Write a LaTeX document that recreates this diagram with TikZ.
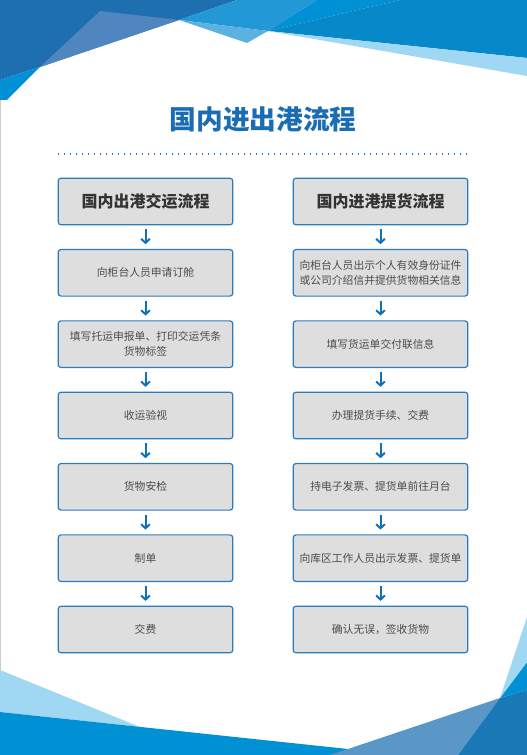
\documentclass[tikz,border=0pt]{standalone}
\usepackage{fontspec}
\newfontfamily\cjk{Noto Sans CJK SC}
\usetikzlibrary{arrows.meta}
\definecolor{dkblue}{HTML}{1E6FAF}
\definecolor{stblue}{HTML}{4F86BF}
\definecolor{brblue}{HTML}{0090D4}
\definecolor{ltblue}{HTML}{2398D6}
\definecolor{skblue}{HTML}{5BB1E0}
\definecolor{pale}{HTML}{A0D8F3}
\definecolor{mdblue}{HTML}{0788C8}
\definecolor{steel}{HTML}{5A97C6}
\definecolor{dkb2}{HTML}{1A78B7}
\definecolor{titleblue}{HTML}{1A6DB4}
\definecolor{boxfill}{HTML}{DEDEDE}
\definecolor{boxline}{HTML}{2A7BC0}
\definecolor{arrblue}{HTML}{1070B8}
\tikzset{
  stepbox/.style={draw=boxline, line width=0.9pt, fill=boxfill, rounded corners=2.2pt,
    minimum width=131pt, minimum height=35pt, inner sep=0pt, align=center,
    font=\cjk\fontsize{8.1pt}{11.25pt}\selectfont, text=black!70},
  headbox/.style={stepbox, font=\cjk\bfseries\fontsize{12pt}{14pt}\selectfont, text=black!80},
  arr/.style={draw=arrblue, line width=1.5pt, -{Straight Barb[length=3pt,width=6.5pt]},
    shorten <=3pt, shorten >=3.5pt}
}
\begin{document}
\begin{tikzpicture}[x=0.75pt,y=-0.75pt]
\useasboundingbox (0,0) rectangle (527,755);
% top decoration
\fill[dkblue] (0,0) -- (237,0) -- (179,20) -- (40,67) -- (0,80) -- cycle;
\fill[stblue] (100,11) -- (179,20) -- (40,67) -- cycle;
\fill[brblue] (0,80) -- (40,67) -- (7,100) -- (0,100) -- cycle;
\fill[ltblue] (237,0) -- (317,0) -- (268,31) -- (179,20) -- cycle;
\fill[skblue] (179,20) -- (268,31) -- (247,43) -- cycle;
\fill[brblue] (317,0) -- (400,0) -- (268,31) -- cycle;
\fill[mdblue] (400,0) -- (527,0) -- (527,58) -- (268,31) -- cycle;
\fill[pale] (268,31) -- (527,58) -- (527,76) -- cycle;
% bottom decoration
\fill[pale] (0,670) -- (140,727) -- (0,712) -- cycle;
\fill[brblue] (0,712) -- (348,749) -- (340,755) -- (0,755) -- cycle;
\fill[steel] (348,749) -- (500,698) -- (458,755) -- (330,755) -- cycle;
\fill[dkb2] (500,698) -- (527,690) -- (527,755) -- (458,755) -- cycle;
\fill[brblue] (500,698) -- (527,662) -- (527,690) -- cycle;
\fill[pale] (500,698) -- (527,617) -- (527,662) -- cycle;
\draw[black!20, line width=0.75pt] (0.5,100) -- (0.5,670);
% title
\node[font=\cjk\bfseries\fontsize{20pt}{24pt}\selectfont, text=titleblue] (title) at (263,119) {国内进出港流程};
\coordinate (dl) at (58,154);
\coordinate (dr) at (468,154);
\draw[boxline, line width=1.1pt, dash pattern=on 1.1pt off 3.4pt] (dl) -- (dr);
% left column
\node[headbox] (l1) at (145.5,201.5) {国内出港交运流程};
\node[stepbox] (l2) at (145.5,272.8) {向柜台人员申请订舱};
\node[stepbox] (l3) at (145.5,344.2) {填写托运申报单、打印交运凭条\\货物标签};
\node[stepbox] (l4) at (145.5,415.5) {收运验视};
\node[stepbox] (l5) at (145.5,486.8) {货物安检};
\node[stepbox] (l6) at (145.5,558.2) {制单};
\node[stepbox] (l7) at (145.5,629.5) {交费};
% right column
\node[headbox] (r1) at (380.5,201.5) {国内进港提货流程};
\node[stepbox] (r2) at (380.5,272.8) {向柜台人员出示个人有效身份证件\\或公司介绍信并提供货物相关信息};
\node[stepbox] (r3) at (380.5,344.2) {填写货运单交付联信息};
\node[stepbox] (r4) at (380.5,415.5) {办理提货手续、交费};
\node[stepbox] (r5) at (380.5,486.8) {持电子发票、提货单前往月台};
\node[stepbox] (r6) at (380.5,558.2) {向库区工作人员出示发票、提货单};
\node[stepbox] (r7) at (380.5,629.5) {确认无误，签收货物};
\foreach \a/\b in {l1/l2,l2/l3,l3/l4,l4/l5,l5/l6,l6/l7,r1/r2,r2/r3,r3/r4,r4/r5,r5/r6,r6/r7}
  \draw[arr] (\a.south) -- (\b.north);
\end{tikzpicture}
\end{document}
